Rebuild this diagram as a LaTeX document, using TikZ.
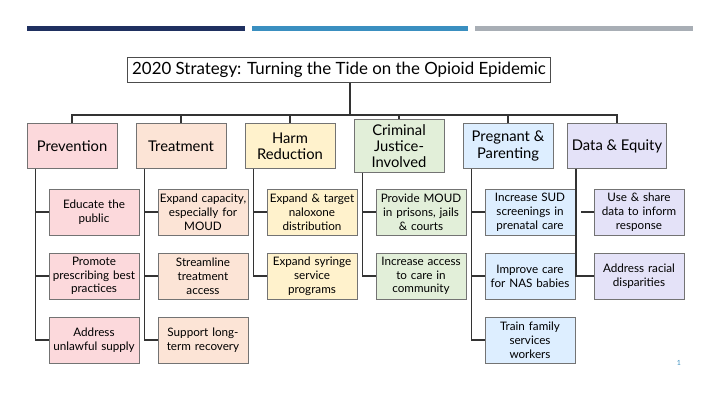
\documentclass[tikz,border=0pt]{standalone}
\usepackage{fontspec}
\setmainfont{Lato}
\usetikzlibrary{positioning,calc}
\definecolor{navy}{HTML}{1F3060}
\definecolor{midblue}{HTML}{3A8FC0}
\definecolor{bargray}{HTML}{A8AEB5}
\definecolor{cPrev}{HTML}{FCD9DC}
\definecolor{cTreat}{HTML}{FCE4D6}
\definecolor{cHarm}{HTML}{FFF2CC}
\definecolor{cCrim}{HTML}{E2EFD9}
\definecolor{cPreg}{HTML}{DDEEFF}
\definecolor{cData}{HTML}{E4E2F8}
\tikzset{
    % Define box styles
    cat/.style={
           draw=black!55,
           minimum width=2.25cm,
           minimum height=1.12cm,
           align=center,
           font=\fontsize{10.5}{11.5}\selectfont},
    item/.style={
           draw=black!55,
           inner sep=0.5pt,
           minimum width=2.25cm,
           minimum height=1.15cm,
           text width=2.22cm,
           align=center,
           font=\fontsize{8.3}{9.8}\selectfont},
    % Define connector style
    link/.style={
           draw=black!80,
           thick}
}
\begin{document}
\begin{tikzpicture}[x=0.025cm,y=-0.025cm]
\useasboundingbox (0,0) rectangle (720,405);
\fill[navy] (27,26) rectangle (245,31);
\fill[midblue] (252,26) rectangle (468,31);
\fill[bargray] (475,26) rectangle (693,31);

\node[draw=black!70, minimum width=10.5cm, minimum height=0.62cm, font=\fontsize{12}{14}\selectfont] (title) at (339,70) {2020 Strategy: Turning the Tide on the Opioid Epidemic};

\node[cat, fill=cPrev] (prev) at (72,146) {Prevention};
\node[cat, fill=cTreat] (treat) at (181,146) {Treatment};
\node[cat, fill=cHarm] (harm) at (290,146) {Harm\\Reduction};
\node[cat, fill=cCrim] (crim) at (399,146) {Criminal\\Justice-\\Involved};
\node[cat, fill=cPreg] (preg) at (508,146) {Pregnant \&\\Parenting};
\node[cat, fill=cData] (data) at (617,146) {Data \& Equity};

\node[item, fill=cPrev] (prev1) at (94,212) {Educate the\\public};
\node[item, fill=cPrev] (prev2) at (94,276) {Promote\\prescribing best\\practices};
\node[item, fill=cPrev] (prev3) at (94,340) {Address\\unlawful supply};

\node[item, fill=cTreat] (treat1) at (203,212) {Expand capacity,\\especially for\\MOUD};
\node[item, fill=cTreat] (treat2) at (203,276) {Streamline\\treatment\\access};
\node[item, fill=cTreat] (treat3) at (203,340) {Support long-\\term recovery};

\node[item, fill=cHarm] (harm1) at (312,212) {Expand \& target\\naloxone\\distribution};
\node[item, fill=cHarm] (harm2) at (312,276) {Expand syringe\\service\\programs};

\node[item, fill=cCrim] (crim1) at (421,212) {Provide MOUD\\in prisons, jails\\\& courts};
\node[item, fill=cCrim] (crim2) at (421,276) {Increase access\\to care in\\community};

\node[item, fill=cPreg] (preg1) at (530,212) {Increase SUD\\screenings in\\prenatal care};
\node[item, fill=cPreg] (preg2) at (530,276) {Improve care\\for NAS babies};
\node[item, fill=cPreg] (preg3) at (530,340) {Train family\\services\\workers};

\node[item, fill=cData] (data1) at (639,212) {Use \& share\\data to inform\\response};
\node[item, fill=cData] (data2) at (639,276) {Address racial\\disparities};

\node[font=\tiny, text=midblue] (pnum) at (679,363) {1};

% trunk and branches
\coordinate (hub) at (350,115);
\draw[link] (title.south -| hub) -- (hub);
\draw[link] (prev.north) |- (hub) -| (data.north);
\foreach \c in {treat,harm,crim,preg} \draw[link] (\c.north) -- (\c.north |- hub);

% spines to items
\foreach \c/\last in {prev/prev3,treat/treat3,harm/harm2,crim/crim2,preg/preg3,data/data2} {
  \draw[link] ($(\c.south west)+(9,0)$) |- (\last.west);
}
\foreach \c/\i in {prev/prev1,prev/prev2,treat/treat1,treat/treat2,harm/harm1,crim/crim1,preg/preg1,preg/preg2,data/data1} {
  \draw[link] (\i.west) -- ++(-13,0);
}
\end{tikzpicture}
\end{document}
